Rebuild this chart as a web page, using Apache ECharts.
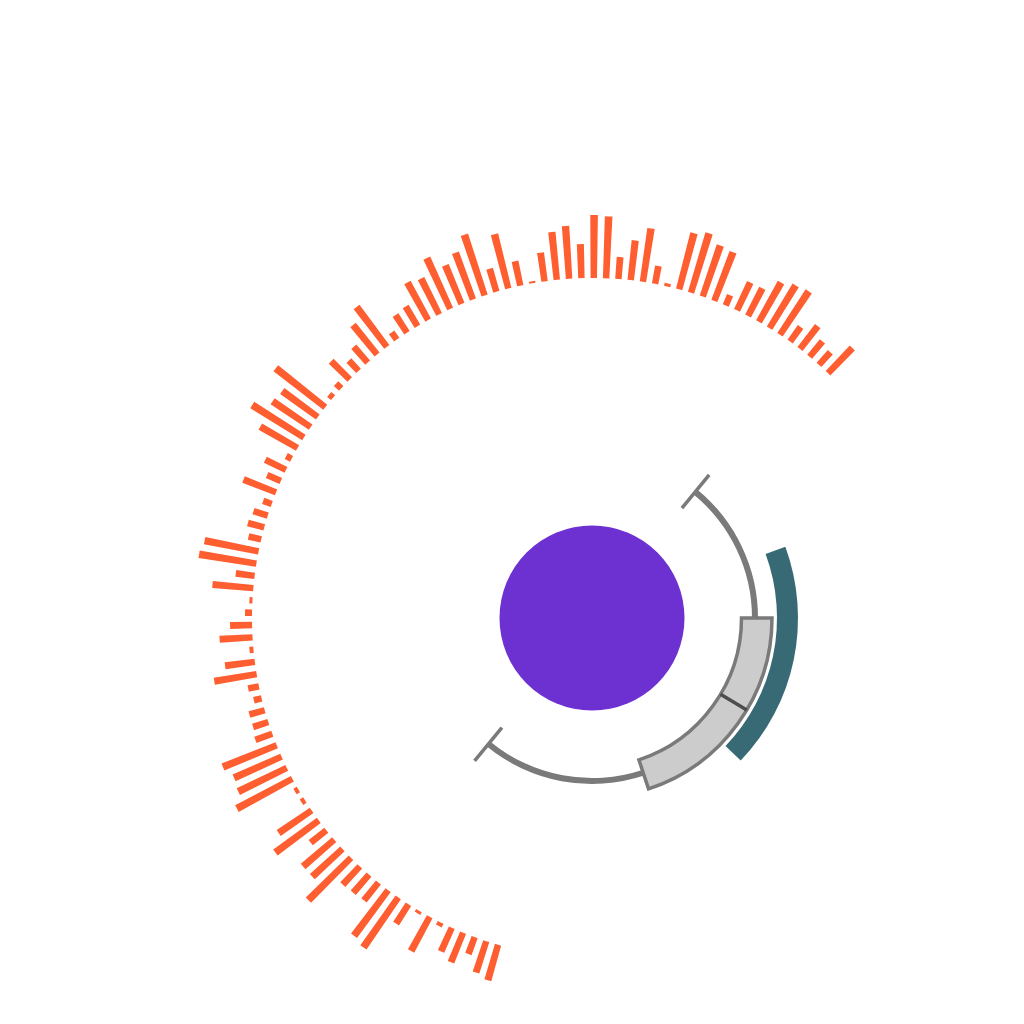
<!DOCTYPE html>
<html>
<head>
<meta charset="utf-8">
<script src="https://cdn.jsdelivr.net/npm/echarts@6/dist/echarts.min.js"></script>
<style>
  html, body { margin: 0; padding: 0; background: #ffffff; }
  #eChart { width: 1024px; height: 1024px; }
</style>
</head>
<body>
<div id="eChart"></div>
<script>
// bar lengths, in clockwise order round the ring
const barValues = [
  37, 33, 18, 32, 26, 4, 39, 3, 23, 61,
  57, 23, 24, 25, 60, 41, 41, 20, 54, 40,
  4, 4, 63, 54, 52, 58, 18, 16, 16, 8,
  11, 43, 30, 4, 33, 22, 7, 3, 41, 19,
  58, 55, 13, 17, 15, 9, 35, 15, 23, 6,
  43, 61, 46, 44, 63, 5, 7, 26, 14, 21,
  38, 50, 9, 21, 23, 43, 40, 56, 42, 50,
  64, 24, 56, 25, 2, 29, 48, 53, 34, 63,
  62, 22, 40, 54, 18, 3, 58, 62, 54, 52,
  11, 31, 31, 45, 50, 52, 18, 29, 20, 17,
  35
];
const barCategories = barValues.map((v, i) => String(i + 1));

// box summary, in degrees clockwise from north: min, q1, median, q3, max
const boxStats = [39.3, 90, 120.7, 161.7, 219.4];
// highlighted range, degrees
const highlightRange = [69.8, 133.8];
// centre disc
const centerValue = [{ name: "total", value: 1 }];

const CX = 592, CY = 618;

function screenAngle(api, params, deg) {
  const p = api.coord([100, deg]);
  return Math.atan2(p[1] - params.coordSys.cy, p[0] - params.coordSys.cx);
}

function radiusPx(api, params, r) {
  const p = api.coord([r, 90]);
  return Math.hypot(p[0] - params.coordSys.cx, p[1] - params.coordSys.cy);
}

function band(api, params, from, to, r0, r, style) {
  let a0 = screenAngle(api, params, from);
  let a1 = screenAngle(api, params, to);
  if (a1 < a0) a1 += Math.PI * 2;
  return {
    type: "sector",
    shape: {
      cx: params.coordSys.cx,
      cy: params.coordSys.cy,
      r0: radiusPx(api, params, r0),
      r: radiusPx(api, params, r),
      startAngle: a0,
      endAngle: a1,
      clockwise: true,
    },
    style: style,
  };
}

function radial(api, deg, r0, r1, style) {
  const p0 = api.coord([r0, deg]);
  const p1 = api.coord([r1, deg]);
  return {
    type: "line",
    shape: { x1: p0[0], y1: p0[1], x2: p1[0], y2: p1[1] },
    style: style,
  };
}

function renderBox(params, api) {
  const lo = api.value(0), q1 = api.value(1), med = api.value(2),
    q3 = api.value(3), hi = api.value(4);
  const grey = "#7a7a7a";
  return {
    type: "group",
    children: [
      band(api, params, lo, q1, 160, 166, { fill: grey }),
      band(api, params, q3, hi, 160, 166, { fill: grey }),
      radial(api, lo, 142, 185, { stroke: grey, lineWidth: 3.5 }),
      radial(api, hi, 142, 185, { stroke: grey, lineWidth: 3.5 }),
      band(api, params, q1, q3, 149.5, 180, {
        fill: "#cccccc",
        stroke: grey,
        lineWidth: 3.5,
      }),
      radial(api, med, 149.5, 180, { stroke: "#4d4d4d", lineWidth: 3.5 }),
    ],
  };
}

function renderHighlight(params, api) {
  return band(api, params, api.value(0), api.value(1), 185, 206, {
    fill: "#376a74",
  });
}

const myChart = echarts.init(document.getElementById("eChart"), null, {
  renderer: "canvas",
});

myChart.setOption({
  animation: false,
  backgroundColor: "#ffffff",
  polar: [
    { center: [CX, CY], radius: [340, 410] },
    { center: [CX, CY], radius: [0, 210] },
  ],
  angleAxis: [
    {
      polarIndex: 0,
      type: "category",
      data: barCategories,
      startAngle: 255,
      endAngle: 45,
      clockwise: true,
      show: false,
    },
    {
      polarIndex: 1,
      type: "value",
      min: 0,
      max: 360,
      startAngle: 90,
      clockwise: true,
      show: false,
    },
  ],
  radiusAxis: [
    { polarIndex: 0, type: "value", min: 0, max: 70, show: false },
    { polarIndex: 1, type: "value", min: 0, max: 210, show: false },
  ],
  series: [
    {
      type: "bar",
      coordinateSystem: "polar",
      polarIndex: 0,
      data: barValues,
      barWidth: "52%",
      itemStyle: { color: "#ff5e31" },
      silent: true,
    },
    {
      type: "custom",
      coordinateSystem: "polar",
      polarIndex: 1,
      data: [highlightRange],
      renderItem: renderHighlight,
      silent: true,
    },
    {
      type: "custom",
      coordinateSystem: "polar",
      polarIndex: 1,
      data: [boxStats],
      renderItem: renderBox,
      silent: true,
    },
    {
      type: "pie",
      center: [CX, CY],
      radius: 92.5,
      data: centerValue,
      label: { show: false },
      labelLine: { show: false },
      itemStyle: { color: "#6c31d0" },
      silent: true,
    },
  ],
});
</script>
</body>
</html>
